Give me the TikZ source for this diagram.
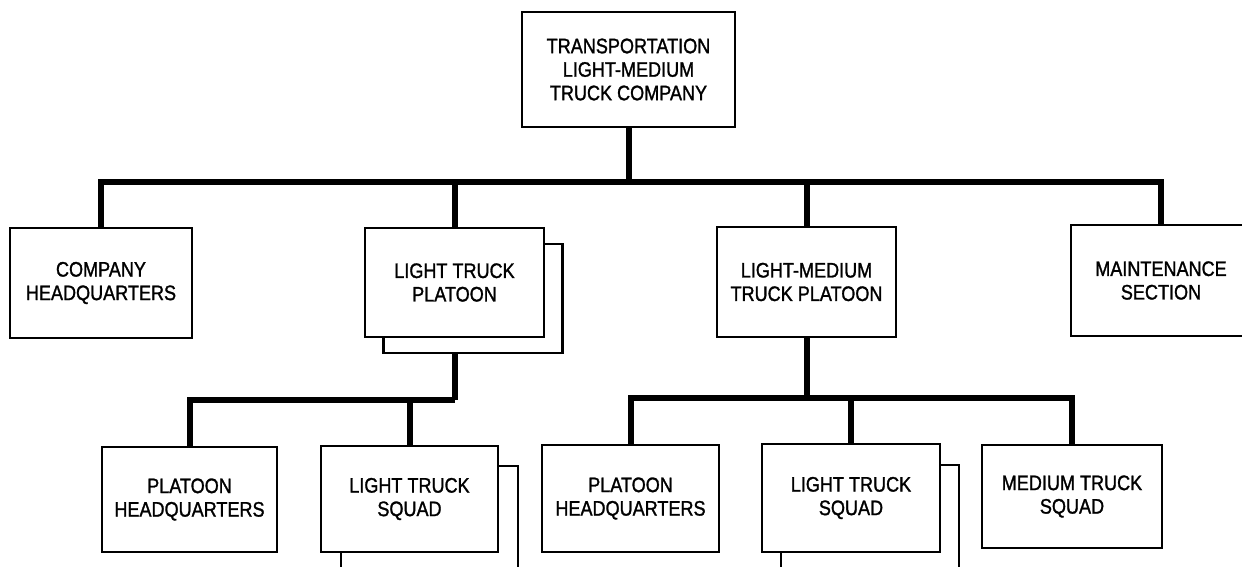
\documentclass[tikz,border=0pt]{standalone}
\usepackage{fontspec}
\setmainfont{Liberation Sans}[FakeStretch=0.86,FakeBold=1.3]
\begin{document}
\begin{tikzpicture}[x=1pt,y=-1pt,
  box/.style={draw=black, line width=2.6pt, fill=white, rectangle, inner sep=0pt,
    align=center, font=\fontsize{21}{23.5}\selectfont},
  shade/.style={draw=black, line width=2.6pt, fill=white, rectangle, inner sep=0pt},
  conn/.style={draw=black, line width=6pt, line cap=butt, line join=miter}]
\useasboundingbox (0,0) rectangle (1242,566);
\clip (0,0) rectangle (1242,566);
% shadows
\node[shade, minimum width=179pt, minimum height=109pt] (ltpS) at (473,298.5) {};
\node[shade, minimum width=177pt, minimum height=106pt] (lts1S) at (429.5,519) {};
\node[shade, minimum width=178pt, minimum height=108pt] (lts2S) at (870,519) {};
% boxes
\node[box, minimum width=213pt, minimum height=115pt] (top) at (628.5,69.5) {TRANSPORTATION\\LIGHT-MEDIUM\\TRUCK COMPANY};
\node[box, minimum width=182pt, minimum height=110pt] (chq) at (101,283) {COMPANY\\HEADQUARTERS};
\node[box, minimum width=179pt, minimum height=109pt] (ltp) at (454.5,282.5) {LIGHT TRUCK\\PLATOON};
\node[box, minimum width=179pt, minimum height=110pt] (lmtp) at (806.5,282) {LIGHT-MEDIUM\\TRUCK PLATOON};
\node[box, minimum width=180pt, minimum height=111pt] (maint) at (1161,280.5) {MAINTENANCE\\SECTION};
\node[box, minimum width=175pt, minimum height=105pt] (phq1) at (189.5,499.5) {PLATOON\\HEADQUARTERS};
\node[box, minimum width=177pt, minimum height=106pt] (lts1) at (409.5,499) {LIGHT TRUCK\\SQUAD};
\node[box, minimum width=177pt, minimum height=107pt] (phq2) at (630.5,498.5) {PLATOON\\HEADQUARTERS};
\node[box, minimum width=178pt, minimum height=108pt] (lts2) at (851,498) {LIGHT TRUCK\\SQUAD};
\node[box, minimum width=180pt, minimum height=103pt] (mts) at (1072,496.5) {MEDIUM TRUCK\\SQUAD};
% bus coordinates
\coordinate (busA) at (0,182);
\coordinate (busB) at (0,400);
\coordinate (busC) at (0,398);
% top level
\draw[conn] (top.south) -- (top.south |- busA);
\draw[conn] (chq.north) -- (chq.north |- busA) -- (maint.north |- busA) -- (maint.north);
\draw[conn] (ltp.north) -- (ltp.north |- busA);
\draw[conn] (lmtp.north) -- (lmtp.north |- busA);
% light truck platoon
\draw[conn] (ltp.center |- ltpS.south) -- (ltp.center |- busB);
\draw[conn] (phq1.north) -- (phq1.north |- busB) -- (ltp.center |- busB);
\draw[conn] (lts1.north) -- (lts1.north |- busB);
% light-medium truck platoon
\draw[conn] (lmtp.south) -- (lmtp.south |- busC);
\draw[conn] (phq2.north) -- (phq2.north |- busC) -- (mts.north |- busC) -- (mts.north);
\draw[conn] (lts2.north) -- (lts2.north |- busC);
\end{tikzpicture}
\end{document}
